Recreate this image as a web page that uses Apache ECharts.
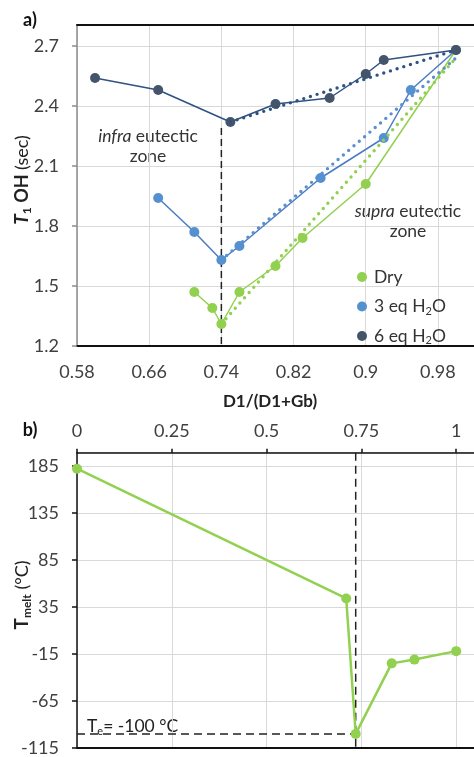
<!DOCTYPE html>
<html><head><meta charset="utf-8">
<script src="https://cdn.jsdelivr.net/npm/echarts@6/dist/echarts.min.js"></script>
<style>html,body{margin:0;padding:0;background:#fff}#c{width:474px;height:757px}</style>
</head><body><div id="c"></div>
<script>
// ---- data (panel a) ----
const dry = [[0.71,1.47],[0.73,1.39],[0.74,1.31],[0.76,1.47],[0.80,1.60],[0.83,1.74],[0.90,2.01],[1.00,2.68]];
const eq3 = [[0.67,1.94],[0.71,1.77],[0.74,1.63],[0.76,1.70],[0.85,2.04],[0.92,2.24],[0.95,2.48],[1.00,2.68]];
const eq6 = [[0.60,2.54],[0.67,2.48],[0.75,2.32],[0.80,2.41],[0.86,2.44],[0.90,2.56],[0.92,2.63],[1.00,2.68]];
const dryTrend = [[0.74,1.31],[1.00,2.64]];
const eq3Trend = [[0.74,1.63],[1.00,2.64]];
const eq6Trend = [[0.75,2.32],[1.00,2.68]];
const eutecticA = [[0.74,2.29],[0.74,1.2]];
const xTicksA = [0.58,0.66,0.74,0.82,0.9,0.98];
const yTicksA = [1.2,1.5,1.8,2.1,2.4,2.7];
// ---- data (panel b) ----
const meltX = [0, 0.71, 0.735, 0.83, 0.89, 1.0];
const meltT = [182, 44, -100, -25, -21, -12];
const eutecticB = [[0.735,199],[0.735,-115]];
const teLine = [[0,-100],[0.735,-100]];
const xTicksB = [0,0.25,0.5,0.75,1];
const yTicksB = [-115,-65,-15,35,85,135,185];

const FONT = 'Lato';
const LBL = '#404040';
const GRIDC = '#d9d9d9';
const C_DRY = '#92d050', C_3 = '#5590d0', C_3L = '#4a7cc4', C_6 = '#44546a', C_6L = '#2e5282';

function near(list, v){ return list.some(t => Math.abs(t - v) < 1e-6); }
function fmt(v){ return String(parseFloat(v.toFixed(3))); }

const chart = echarts.init(document.getElementById('c'));
const dotted = (color) => ({ color, width: 3.4, type: [0, 7], cap: 'round' });

chart.setOption({
  animation: false,
  grid: [
    { left: 77, top: 25, right: 0, bottom: 411 },
    { left: 77, top: 452.7, right: 0, bottom: 4.3 }
  ],
  xAxis: [
    { type: 'value', gridIndex: 0, position: 'bottom', min: 0.58, max: 1.02, interval: 0.08,
      axisLine: { show: true, onZero: false, lineStyle: { color: '#111', width: 2 } },
      axisTick: { show: false },
      axisLabel: { margin: 17, fontSize: 18, fontFamily: FONT, color: LBL, showMaxLabel: false,
        formatter: v => near(xTicksA, v) ? fmt(v) : '' },
      splitLine: { show: true, lineStyle: { color: GRIDC, width: 1 } } },
    { type: 'value', gridIndex: 0, position: 'top', min: 0.58, max: 1.02,
      axisLine: { show: true, onZero: false, lineStyle: { color: '#111', width: 2 } },
      axisTick: { show: false }, axisLabel: { show: false }, splitLine: { show: false } },
    { type: 'value', gridIndex: 1, position: 'top', min: 0, max: 1.047, interval: 0.25,
      axisLine: { show: true, onZero: false, lineStyle: { color: '#111', width: 1.5 } },
      axisTick: { show: true, length: 4, lineStyle: { color: '#111', width: 1.5 } },
      axisLabel: { margin: 13, fontSize: 18, fontFamily: FONT, color: LBL, showMaxLabel: false,
        formatter: v => near(xTicksB, v) ? fmt(v) : '' },
      splitLine: { show: true, lineStyle: { color: GRIDC, width: 1 } } },
    { type: 'value', gridIndex: 1, position: 'bottom', min: 0, max: 1.047,
      axisLine: { show: true, onZero: false, lineStyle: { color: '#111', width: 2 } },
      axisTick: { show: false }, axisLabel: { show: false }, splitLine: { show: false } }
  ],
  yAxis: [
    { type: 'value', gridIndex: 0, min: 1.2, max: 2.805, interval: 0.3,
      axisLine: { show: true, onZero: false, lineStyle: { color: '#8c8c8c', width: 1.5 } },
      axisTick: { show: true, length: 5, lineStyle: { color: '#8c8c8c', width: 1.5 } },
      axisLabel: { margin: 18, fontSize: 18, fontFamily: FONT, color: LBL, showMaxLabel: false,
        formatter: v => near(yTicksA, v) ? v.toFixed(1) : '' },
      splitLine: { show: true, lineStyle: { color: GRIDC, width: 1 } } },
    { type: 'value', gridIndex: 1, min: -115, max: 199, interval: 50,
      axisLine: { show: true, onZero: false, lineStyle: { color: '#111', width: 1.5 } },
      axisTick: { show: true, length: 5, lineStyle: { color: '#111', width: 1.5 } },
      axisLabel: { margin: 18, fontSize: 18, fontFamily: FONT, color: LBL, showMaxLabel: false,
        formatter: v => near(yTicksB, v) ? String(Math.round(v)) : '' },
      splitLine: { show: true, lineStyle: { color: GRIDC, width: 1 } } }
  ],
  legend: {
    orient: 'vertical', left: 352, top: 262, itemWidth: 10, itemHeight: 10, itemGap: 9.5,
    icon: 'circle', data: ['Dry', '3 eq H2O', '6 eq H2O'],
    formatter: n => n.replace('H2O', 'H{s|2}O'),
    textStyle: { fontSize: 17.5, fontFamily: FONT, color: '#333', lineHeight: 20, padding: [0,0,0,2],
      rich: { s: { fontSize: 11, fontFamily: FONT, color: '#333', verticalAlign: 'bottom', lineHeight: 12 } } }
  },
  series: [
    { name: 'Dry', type: 'line', xAxisIndex: 0, yAxisIndex: 0, data: dry, symbol: 'circle', symbolSize: 10,
      itemStyle: { color: C_DRY }, lineStyle: { color: C_DRY, width: 1.5 }, z: 3 },
    { name: '3 eq H2O', type: 'line', xAxisIndex: 0, yAxisIndex: 0, data: eq3, symbol: 'circle', symbolSize: 10,
      itemStyle: { color: C_3 }, lineStyle: { color: C_3L, width: 1.5 }, z: 3 },
    { name: '6 eq H2O', type: 'line', xAxisIndex: 0, yAxisIndex: 0, data: eq6, symbol: 'circle', symbolSize: 10,
      itemStyle: { color: C_6 }, lineStyle: { color: C_6L, width: 1.5 }, z: 3 },
    { name: 'dryTrend', type: 'line', xAxisIndex: 0, yAxisIndex: 0, data: dryTrend, symbol: 'none',
      lineStyle: dotted(C_DRY), z: 4, silent: true },
    { name: 'eq3Trend', type: 'line', xAxisIndex: 0, yAxisIndex: 0, data: eq3Trend, symbol: 'none',
      lineStyle: dotted('#5b8fd0'), z: 4, silent: true },
    { name: 'eq6Trend', type: 'line', xAxisIndex: 0, yAxisIndex: 0, data: eq6Trend, symbol: 'none',
      lineStyle: dotted(C_6L), z: 4, silent: true },
    { name: 'eutA', type: 'line', xAxisIndex: 0, yAxisIndex: 0, data: eutecticA, symbol: 'none',
      lineStyle: { color: '#222', width: 1.5, type: [7, 4] }, z: 2, silent: true },
    { name: 'melt', type: 'line', xAxisIndex: 2, yAxisIndex: 1, data: meltX.map((x, i) => [x, meltT[i]]),
      symbol: 'circle', symbolSize: 10, itemStyle: { color: C_DRY }, lineStyle: { color: C_DRY, width: 2.5 }, z: 3 },
    { name: 'eutB', type: 'line', xAxisIndex: 2, yAxisIndex: 1, data: eutecticB, symbol: 'none',
      lineStyle: { color: '#222', width: 1.5, type: [8, 5] }, z: 2, silent: true },
    { name: 'te', type: 'line', xAxisIndex: 2, yAxisIndex: 1, data: teLine, symbol: 'none',
      lineStyle: { color: '#222', width: 1.5, type: [8, 5] }, z: 2, silent: true }
  ],
  graphic: [
    { type: 'text', x: 30, y: 20, style: { text: 'a)', fontSize: 18, fontWeight: 'bold', fontFamily: FONT, fill: '#111', align: 'center', verticalAlign: 'middle' } },
    { type: 'text', x: 30, y: 430, style: { text: 'b)', fontSize: 18, fontWeight: 'bold', fontFamily: FONT, fill: '#111', align: 'center', verticalAlign: 'middle' } },
    { type: 'text', x: 270, y: 402, style: { text: 'D1/(D1+Gb)', fontSize: 17, fontWeight: 'bold', fontFamily: FONT, fill: '#222', align: 'center', verticalAlign: 'middle' } },
    { type: 'text', x: 22, y: 180, rotation: Math.PI / 2, style: {
        text: '{t|T}{s|1}{b| OH }{n|(sec)}', align: 'center', verticalAlign: 'middle', fill: '#222',
        rich: { t: { fontSize: 19, fontStyle: 'italic', fontWeight: 'bold', fontFamily: FONT, lineHeight: 22 },
                s: { fontSize: 12, fontWeight: 'bold', fontFamily: FONT, verticalAlign: 'bottom', lineHeight: 12 },
                b: { fontSize: 18, fontWeight: 'bold', fontFamily: FONT, lineHeight: 22 },
                n: { fontSize: 18, fontFamily: FONT, lineHeight: 22 } } } },
    { type: 'text', x: 22, y: 595, rotation: Math.PI / 2, style: {
        text: '{t|T}{s|melt}{n| (°C)}', align: 'center', verticalAlign: 'middle', fill: '#222',
        rich: { t: { fontSize: 19, fontWeight: 'bold', fontFamily: FONT, lineHeight: 22 },
                s: { fontSize: 12, fontWeight: 'bold', fontFamily: FONT, verticalAlign: 'bottom', lineHeight: 12 },
                n: { fontSize: 18, fontFamily: FONT, lineHeight: 22 } } } },
    { type: 'text', x: 148, y: 146, style: {
        text: '{i|infra} eutectic\nzone', align: 'center', verticalAlign: 'middle', fontSize: 17.5, fontFamily: FONT, fill: '#333', lineHeight: 20,
        rich: { i: { fontSize: 17.5, fontStyle: 'italic', fontFamily: FONT, lineHeight: 20 } } } },
    { type: 'text', x: 408, y: 221, style: {
        text: '{i|supra} eutectic\nzone', align: 'center', verticalAlign: 'middle', fontSize: 17.5, fontFamily: FONT, fill: '#333', lineHeight: 20,
        rich: { i: { fontSize: 17.5, fontStyle: 'italic', fontFamily: FONT, lineHeight: 20 } } } },
    { type: 'text', x: 87, y: 726, style: {
        text: 'T{s|e}= -100 °C', align: 'left', verticalAlign: 'middle', fontSize: 17.5, fontFamily: FONT, fill: '#222', lineHeight: 22,
        rich: { s: { fontSize: 11, fontFamily: FONT, verticalAlign: 'bottom', lineHeight: 12 } } } }
  ]
});
</script></body></html>
